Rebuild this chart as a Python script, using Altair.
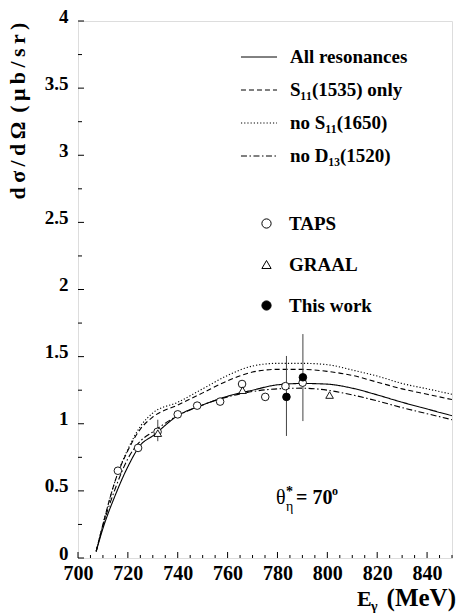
import altair as alt
import pandas as pd

# ---------------- data ----------------
E_grid = [707.3, 710, 715, 720, 725, 730, 740, 750, 760, 770, 780, 790, 800, 810, 820, 830, 840, 850]
all_res = [0.05, 0.22, 0.47, 0.68, 0.84, 0.91, 1.06, 1.14, 1.205, 1.25, 1.29, 1.30, 1.295, 1.265, 1.215, 1.16, 1.11, 1.06]
s11_only = [0.05, 0.25, 0.58, 0.80, 0.96, 1.05, 1.14, 1.23, 1.32, 1.385, 1.405, 1.405, 1.39, 1.36, 1.31, 1.26, 1.22, 1.18]
no_s11_1650 = [0.05, 0.25, 0.58, 0.81, 0.98, 1.08, 1.16, 1.26, 1.36, 1.43, 1.45, 1.45, 1.44, 1.40, 1.355, 1.30, 1.26, 1.22]
no_d13_1520 = [0.05, 0.24, 0.52, 0.74, 0.87, 0.94, 1.06, 1.14, 1.20, 1.24, 1.26, 1.265, 1.25, 1.215, 1.17, 1.12, 1.075, 1.03]

curve_names = ["All resonances", "S\u2081\u2081(1535) only", "no S\u2081\u2081(1650)", "no D\u2081\u2083(1520)"]

taps_E = [716.0, 724.1, 731.9, 740.0, 747.8, 757.0, 765.8, 775.1, 783.2, 790.1]
taps_y = [0.65, 0.82, 0.94, 1.07, 1.135, 1.165, 1.296, 1.20, 1.28, 1.306]

graal_E = [732.0, 766.0, 800.9]
graal_y = [0.93, 1.25, 1.214]
graal_lo = [0.87, 1.25, 1.214]
graal_hi = [1.03, 1.25, 1.214]

this_E = [783.6, 790.2]
this_y = [1.20, 1.346]
this_lo = [0.909, 1.02]
this_hi = [1.505, 1.668]

point_names = ["TAPS", "GRAAL", "This work"]

x_major = [700, 720, 740, 760, 780, 800, 820, 840]
x_minor = [705, 710, 715, 725, 730, 735, 745, 750, 755, 765, 770, 775,
           785, 790, 795, 805, 810, 815, 825, 830, 835, 845, 850]
y_major = [0, 0.5, 1, 1.5, 2, 2.5, 3, 3.5, 4]
y_minor = [0.25, 0.75, 1.25, 1.75, 2.25, 2.75, 3.25, 3.75]

FONT = "Liberation Serif, Times New Roman, Times, DejaVu Serif, serif"
W, H = 374, 537
TS = "\u2009"  # thin space used to widen the y title

# ---------------- tables ----------------
curve_rows = []
for name, vals in zip(curve_names, [all_res, s11_only, no_s11_1650, no_d13_1520]):
    for e, v in zip(E_grid, vals):
        curve_rows.append({"E": e, "v": v, "series": name})
curves_df = pd.DataFrame(curve_rows)

pt_rows = []
for name, es, ys in [("TAPS", taps_E, taps_y), ("GRAAL", graal_E, graal_y), ("This work", this_E, this_y)]:
    for e, y in zip(es, ys):
        pt_rows.append({"E": e, "v": y, "series": name})
pts_df = pd.DataFrame(pt_rows)

err_rows = []
for es, lo, hi in [(graal_E, graal_lo, graal_hi), (this_E, this_lo, this_hi)]:
    for e, l, h in zip(es, lo, hi):
        if h > l:
            err_rows.append({"E": e, "lo": l, "hi": h})
err_df = pd.DataFrame(err_rows)

xscale = alt.Scale(domain=[700, 850], nice=False, zero=False)
yscale = alt.Scale(domain=[0, 4], nice=False)

x_axis = alt.Axis(values=x_major, format="d", ticks=False, domain=False, grid=False, title=None,
                  labelFont=FONT, labelFontWeight="bold", labelFontSize=20, labelColor="black",
                  labelPadding=5, labelFlush=False, labelOverlap=False)
y_axis = alt.Axis(values=y_major, format="~g", ticks=False, domain=False, grid=False, title=None,
                  labelFont=FONT, labelFontWeight="bold", labelFontSize=19, labelColor="black",
                  labelPadding=10, labelFlush=False, labelOverlap=False, labelOffset=-5)

curves = alt.Chart(curves_df).mark_line(color="black", strokeWidth=1.1, interpolate="monotone", clip=True).encode(
    x=alt.X("E:Q", scale=xscale, axis=x_axis),
    y=alt.Y("v:Q", scale=yscale, axis=y_axis),
    strokeDash=alt.StrokeDash(
        "series:N",
        scale=alt.Scale(domain=curve_names, range=[[1, 0], [5, 3], [1.2, 2], [6, 2.5, 1.5, 2.5]]),
        legend=alt.Legend(orient="none", legendX=162, legendY=17, title=None,
                          symbolType="stroke", symbolSize=1300, symbolStrokeWidth=1,
                          symbolStrokeColor="black", labelFont=FONT, labelFontWeight="bold",
                          labelFontSize=19, labelColor="black", labelOffset=12, rowPadding=4,
                          padding=0),
    ),
    order="E:Q",
)

errs = alt.Chart(err_df).mark_rule(color="#444444", strokeWidth=1).encode(
    x=alt.X("E:Q", scale=xscale), y=alt.Y("lo:Q", scale=yscale), y2="hi:Q"
)

pt_legend = alt.Legend(orient="none", legendX=179, legendY=193, title=None,
                       symbolSize=85, symbolStrokeColor="black", symbolStrokeWidth=1,
                       labelFont=FONT, labelFontWeight="bold", labelFontSize=19,
                       labelColor="black", labelOffset=13, rowPadding=21, padding=0)

points = alt.Chart(pts_df).mark_point(filled=True, strokeWidth=0.9, size=58, opacity=1).encode(
    x=alt.X("E:Q", scale=xscale),
    y=alt.Y("v:Q", scale=yscale),
    shape=alt.Shape("series:N", scale=alt.Scale(domain=point_names, range=["circle", "triangle-up", "circle"]),
                    legend=pt_legend),
    fill=alt.Fill("series:N", scale=alt.Scale(domain=point_names, range=["white", "white", "black"]),
                  legend=pt_legend),
    stroke=alt.Stroke("series:N", scale=alt.Scale(domain=point_names, range=["black", "black", "black"]),
                      legend=pt_legend),
)

# inward ticks
xt_major = alt.Chart(pd.DataFrame({"E": x_major})).mark_rule(color="black").encode(
    x=alt.X("E:Q", scale=xscale), y=alt.value(H), y2=alt.value(H - 6))
xt_minor = alt.Chart(pd.DataFrame({"E": x_minor})).mark_rule(color="black").encode(
    x=alt.X("E:Q", scale=xscale), y=alt.value(H), y2=alt.value(H - 3))
yt_major = alt.Chart(pd.DataFrame({"v": y_major})).mark_rule(color="black").encode(
    y=alt.Y("v:Q", scale=yscale), x=alt.value(0), x2=alt.value(6))
yt_minor = alt.Chart(pd.DataFrame({"v": y_minor})).mark_rule(color="black").encode(
    y=alt.Y("v:Q", scale=yscale), x=alt.value(0), x2=alt.value(4))

one = pd.DataFrame({"k": [0]})

def txt(s, x, y, size, weight="bold", align="left", baseline="alphabetic", angle=0):
    kw = dict(text=s, font=FONT, fontSize=size, fontWeight=weight, align=align,
              baseline=baseline, color="black")
    if angle:
        kw["angle"] = angle
    return alt.Chart(one).mark_text(**kw).encode(x=alt.value(x), y=alt.value(y))

ytitle = TS.join("d\u03c3/d\u03a9") + TS + TS + TS.join("(\u03bcb/sr)")

labels = [
    txt(ytitle, -60, 90, 22, align="center", baseline="middle", angle=270),
    txt("E", 279, 585, 22),
    txt("\u03b3", 293, 590, 14),
    txt("(MeV)", 378, 585, 25, align="right"),
    txt("\u03b8", 198, 483, 20, weight="normal"),
    txt("*", 208, 475, 14),
    txt("\u03b7", 208, 490, 14, weight="normal"),
    txt("= 70", 218, 483, 20),
    txt("o", 254, 474, 12),
]

chart = alt.layer(curves, errs, points, xt_major, xt_minor, yt_major, yt_minor, *labels).properties(
    width=W, height=H,
    padding={"left": 78, "top": 21, "right": 4, "bottom": 55},
    autosize=alt.AutoSizeParams(type="none"),
).resolve_scale(strokeDash="independent").configure_view(stroke="#222222", strokeWidth=1.2).configure(background="white")

chart.save("out.html", embed_options={"renderer": "svg", "actions": False})
